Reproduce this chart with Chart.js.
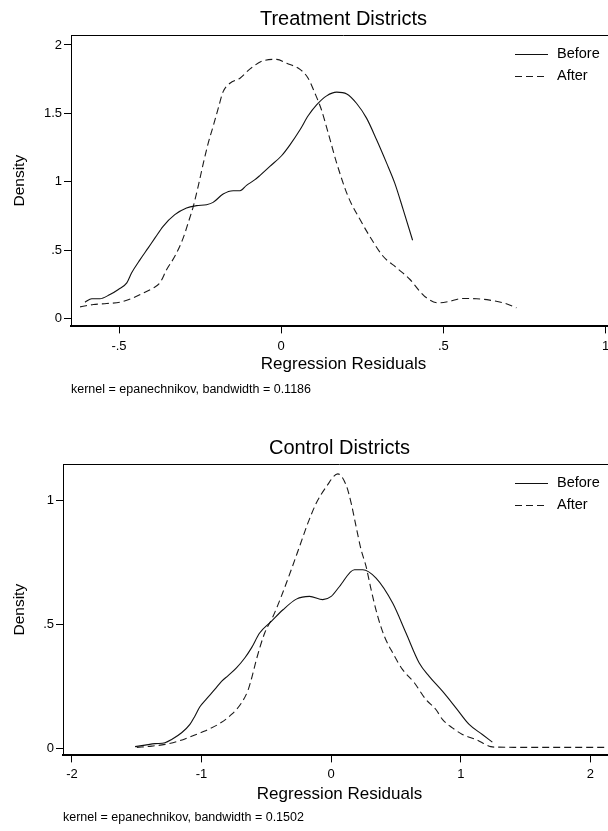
<!DOCTYPE html>
<html>
<head>
<meta charset="utf-8">
<script src="https://cdn.jsdelivr.net/npm/chart.js@4.4.1/dist/chart.umd.min.js"></script>
<style>
  html, body { margin: 0; padding: 0; background: #fff; overflow: hidden; width: 608px; height: 831px; }
  canvas { position: absolute; left: 0; }
</style>
</head>
<body>
<canvas id="treatChart" width="620" height="415" style="top:0"></canvas>
<canvas id="ctrlChart" width="620" height="416" style="top:415px"></canvas>
<script>
// kernel density curves: [residual, density]
const treatBefore = [
  [-0.605, 0.119], [-0.584, 0.144], [-0.559, 0.144], [-0.528, 0.175], [-0.502, 0.212],
  [-0.476, 0.26], [-0.461, 0.334], [-0.435, 0.43], [-0.41, 0.516], [-0.389, 0.589],
  [-0.364, 0.674], [-0.328, 0.759], [-0.292, 0.808], [-0.261, 0.825], [-0.23, 0.832],
  [-0.21, 0.849], [-0.179, 0.91], [-0.148, 0.934], [-0.127, 0.934], [-0.107, 0.973],
  [-0.081, 1.015], [-0.066, 1.045], [-0.035, 1.112], [0.001, 1.19], [0.027, 1.27],
  [0.058, 1.38], [0.083, 1.482], [0.109, 1.562], [0.14, 1.628], [0.171, 1.655],
  [0.202, 1.642], [0.232, 1.574], [0.263, 1.465], [0.294, 1.307], [0.325, 1.136],
  [0.35, 0.99], [0.376, 0.796], [0.405, 0.572]
];
const treatAfter = [
  [-0.62, 0.085], [-0.579, 0.102], [-0.538, 0.109], [-0.497, 0.119], [-0.456, 0.151],
  [-0.425, 0.187], [-0.394, 0.224], [-0.374, 0.26], [-0.353, 0.358], [-0.328, 0.455],
  [-0.302, 0.589], [-0.287, 0.698], [-0.271, 0.82], [-0.256, 0.966], [-0.24, 1.136],
  [-0.225, 1.282], [-0.21, 1.404], [-0.194, 1.538], [-0.179, 1.659], [-0.158, 1.72],
  [-0.127, 1.757], [-0.096, 1.825], [-0.055, 1.885], [-0.014, 1.895], [0.017, 1.866],
  [0.058, 1.822], [0.083, 1.757], [0.104, 1.647], [0.124, 1.526], [0.145, 1.355],
  [0.171, 1.136], [0.206, 0.893], [0.243, 0.723], [0.279, 0.577], [0.314, 0.455],
  [0.356, 0.37], [0.397, 0.285], [0.427, 0.199], [0.448, 0.151], [0.484, 0.114],
  [0.52, 0.126], [0.556, 0.146], [0.602, 0.144], [0.643, 0.134], [0.685, 0.114],
  [0.725, 0.078]
];
const ctrlBefore = [
  [-1.513, 0.006], [-1.436, 0.012], [-1.359, 0.018], [-1.282, 0.022], [-1.231, 0.035],
  [-1.154, 0.062], [-1.09, 0.096], [-1.052, 0.129], [-1.013, 0.167], [-0.962, 0.199],
  [-0.898, 0.237], [-0.846, 0.27], [-0.795, 0.293], [-0.731, 0.324], [-0.667, 0.364],
  [-0.615, 0.405], [-0.552, 0.465], [-0.462, 0.512], [-0.372, 0.559], [-0.269, 0.602],
  [-0.167, 0.613], [-0.065, 0.6], [0, 0.613], [0.064, 0.653], [0.179, 0.721],
  [0.243, 0.721], [0.346, 0.687], [0.474, 0.586], [0.577, 0.465], [0.679, 0.344],
  [0.756, 0.29], [0.858, 0.23], [0.962, 0.163], [1.064, 0.096], [1.166, 0.055],
  [1.243, 0.024]
];
const ctrlAfter = [
  [-1.5, 0.003], [-1.385, 0.008], [-1.282, 0.015], [-1.18, 0.028], [-1.077, 0.048],
  [-0.975, 0.069], [-0.872, 0.096], [-0.769, 0.136], [-0.692, 0.183], [-0.641, 0.235],
  [-0.61, 0.29], [-0.577, 0.358], [-0.513, 0.465], [-0.449, 0.532], [-0.385, 0.613],
  [-0.308, 0.721], [-0.244, 0.815], [-0.18, 0.909], [-0.115, 0.99], [-0.038, 1.056],
  [0.051, 1.108], [0.115, 1.063], [0.154, 0.99], [0.192, 0.895], [0.231, 0.801],
  [0.269, 0.734], [0.308, 0.64], [0.359, 0.532], [0.41, 0.452], [0.474, 0.385],
  [0.551, 0.317], [0.641, 0.264], [0.731, 0.196], [0.808, 0.156], [0.858, 0.116],
  [0.935, 0.082], [1.012, 0.055], [1.115, 0.035], [1.231, 0.006], [1.269, 0.004],
  [1.6, 0.003], [1.9, 0.003], [2.2, 0.003]
];

const treatXTicks = [-0.5, 0, 0.5, 1];
const treatYTicks = [0, 0.5, 1, 1.5, 2];
const ctrlXTicks = [-2, -1, 0, 1, 2];
const ctrlYTicks = [0, 0.5, 1];

const seriesLabels = ['Before', 'After'];

Chart.defaults.font.family = '"Liberation Sans", Arial, sans-serif';
Chart.defaults.color = '#000';

// Stata drops the leading zero: 0.5 -> .5, -0.5 -> -.5
function stataLabel(v) {
  return String(v).replace(/^(-?)0\./, '$1.');
}

const toPoints = arr => arr.map(([x, y]) => ({ x, y }));

// plot region border (top/right) and the legend inside the plot
const frameAndLegend = {
  id: 'frameAndLegend',
  afterDatasetsDraw(chart) {
    const { ctx, chartArea: a } = chart;
    ctx.save();
    ctx.strokeStyle = '#000';
    ctx.lineWidth = 1;
    ctx.setLineDash([]);
    ctx.beginPath();
    ctx.moveTo(a.left, a.top + 0.5);
    ctx.lineTo(a.right, a.top + 0.5);
    ctx.lineTo(a.right, a.bottom);
    ctx.stroke();

    const rows = [a.top + 19, a.top + 40.5];
    chart.data.datasets.forEach((ds, i) => {
      const y = Math.round(rows[i]) + 0.5;
      ctx.strokeStyle = ds.borderColor;
      ctx.setLineDash(ds.borderDash || []);
      ctx.beginPath();
      ctx.moveTo(515, y);
      ctx.lineTo(548, y);
      ctx.stroke();
      ctx.setLineDash([]);
      ctx.fillStyle = '#000';
      ctx.font = '14.5px "Liberation Sans", Arial, sans-serif';
      ctx.textBaseline = 'middle';
      ctx.textAlign = 'left';
      ctx.fillText(ds.label, 557, rows[i]);
    });
    ctx.restore();
  }
};

function makeChart(id, p) {
  return new Chart(document.getElementById(id), {
    type: 'scatter',
    data: {
      datasets: [
        { label: seriesLabels[0], data: toPoints(p.before), borderColor: '#111', borderWidth: 1.1,
          showLine: true, pointRadius: 0, borderDash: [], cubicInterpolationMode: 'monotone' },
        { label: seriesLabels[1], data: toPoints(p.after), borderColor: '#1a1a1a', borderWidth: 1.1,
          showLine: true, pointRadius: 0, borderDash: [7, 4], cubicInterpolationMode: 'monotone' }
      ]
    },
    options: {
      responsive: false,
      animation: false,
      devicePixelRatio: 1,
      layout: { padding: { left: 0, right: 4, top: 0, bottom: 0 } },
      plugins: {
        legend: { display: false },
        tooltip: { enabled: false },
        title: {
          display: true, text: p.title, fullSize: false,
          font: { size: 20, weight: 'normal' }, color: '#000',
          padding: { top: p.titleTop, bottom: 4 }
        },
        subtitle: {
          display: true, text: p.note, position: 'bottom', align: 'start', fullSize: false,
          font: { size: 12.5 }, color: '#000',
          padding: { top: 2, bottom: p.noteBottom }
        }
      },
      scales: {
        x: {
          type: 'linear', min: p.xMin, max: p.xMax,
          afterBuildTicks: s => { s.ticks = p.xTicks.map(v => ({ value: v })); },
          afterFit: s => { s.height = p.xHeight; },
          ticks: { callback: stataLabel, font: { size: 13 }, color: '#000', padding: p.xPad, maxRotation: 0, autoSkip: false },
          grid: { drawOnChartArea: false, tickLength: 7, color: '#000' },
          border: { display: true, color: '#000', width: 2 },
          title: { display: true, text: 'Regression Residuals', font: { size: 17 }, color: '#000',
                   padding: { top: 0, bottom: p.xTitleBottom } }
        },
        y: {
          type: 'linear', min: p.yMin, max: p.yMax,
          afterBuildTicks: s => { s.ticks = p.yTicks.map(v => ({ value: v })); },
          afterFit: s => { s.width = p.yWidth; },
          ticks: { callback: stataLabel, font: { size: 13 }, color: '#000', padding: 2 },
          grid: { drawOnChartArea: false, tickLength: 7, color: '#000' },
          border: { display: true, color: '#000', width: 1 },
          title: { display: true, text: 'Density', font: { size: 15.5 }, color: '#000',
                   padding: { top: 10.7, bottom: 0 } }
        }
      }
    },
    plugins: [frameAndLegend]
  });
}

makeChart('treatChart', {
  title: 'Treatment Districts',
  note: 'kernel = epanechnikov, bandwidth = 0.1186',
  before: treatBefore, after: treatAfter,
  xTicks: treatXTicks, yTicks: treatYTicks,
  xMin: -0.648, xMax: 1.032, yMin: -0.058, yMax: 2.073,
  titleTop: 7, noteBottom: 17.8, xHeight: 53.8, xPad: 5, xTitleBottom: 5.6, yWidth: 71
});

makeChart('ctrlChart', {
  title: 'Control Districts',
  note: 'kernel = epanechnikov, bandwidth = 0.1502',
  before: ctrlBefore, after: ctrlAfter,
  xTicks: ctrlXTicks, yTicks: ctrlYTicks,
  xMin: -2.069, xMax: 2.197, yMin: -0.0294, yMax: 1.148,
  titleTop: 21, noteBottom: 5.8, xHeight: 52.8, xPad: 4, xTitleBottom: 3.6, yWidth: 63
});
</script>
</body>
</html>
